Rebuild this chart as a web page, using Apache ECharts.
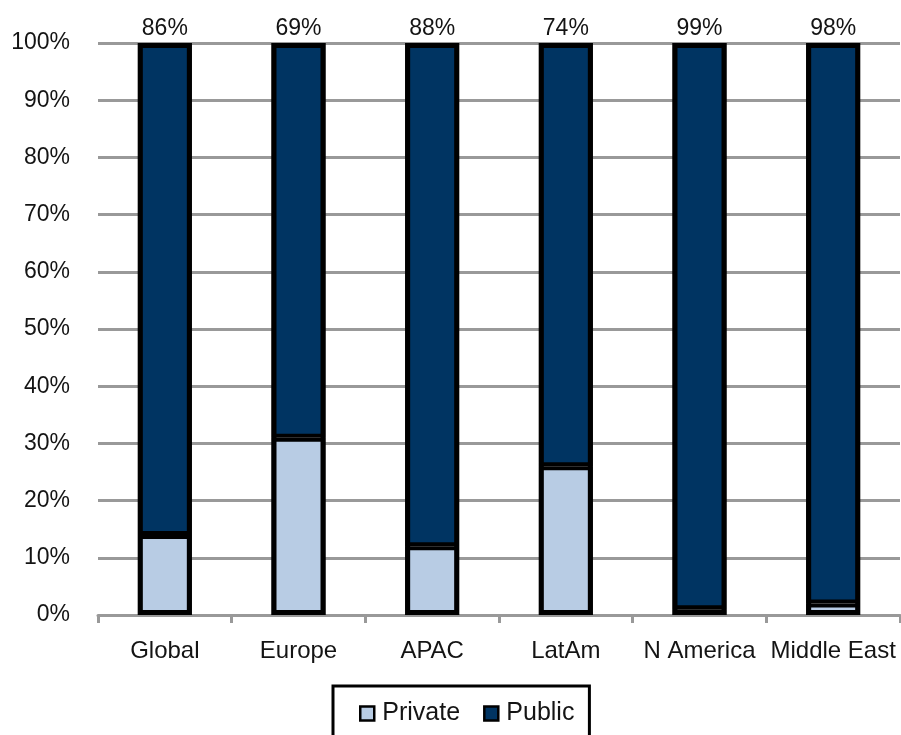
<!DOCTYPE html>
<html>
<head>
<meta charset="utf-8">
<script src="https://cdn.jsdelivr.net/npm/echarts@6/dist/echarts.min.js"></script>
<style>
  html, body { margin: 0; padding: 0; background: #fff; }
  #main { width: 901px; height: 735px; }
</style>
</head>
<body>
<div id="main"></div>
<script>
;(function() {
    // chart data
    var categories = ['Global', 'Europe', 'APAC', 'LatAm', 'N America', 'Middle East'];
    var privateShare = [14, 31, 12, 26, 1, 2];
    var publicShare = [86, 69, 88, 74, 99, 98];
    var yTicks = { min: 0, max: 100, interval: 10 };

    // total column height, used for the black outline round each bar
    var totalShare = privateShare.map(function(v, i) { return v + publicShare[i]; });

    var font = 'Liberation Sans, Arial, sans-serif';
    var textColor = '#141414';
    var gridGray = '#999999';
    var barW = 54;

    var myChart = echarts.init(document.getElementById('main'));
    var option = {
        animation: false,
        backgroundColor: '#fff',
        grid: {
            left: 98,
            right: 1,
            top: 43,
            bottom: 120
        },
        legend: {
            left: 333,
            top: 686,
            padding: [15, 15, 30, 26],
            borderColor: '#000',
            borderWidth: 3,
            itemWidth: 14,
            itemHeight: 14,
            itemGap: 23,
            icon: 'rect',
            itemStyle: {
                borderColor: '#000',
                borderWidth: 2.5
            },
            textStyle: {
                fontFamily: font,
                fontSize: 25,
                color: textColor,
                padding: [0, 0, 0, 3]
            },
            data: ['Private', 'Public']
        },
        xAxis: {
            type: 'category',
            data: categories,
            axisLine: {
                lineStyle: { color: gridGray, width: 3 }
            },
            axisTick: {
                show: true,
                length: 8,
                lineStyle: { color: gridGray, width: 3 }
            },
            axisLabel: {
                margin: 24,
                fontFamily: font,
                fontSize: 24,
                color: textColor,
                interval: 0
            }
        },
        yAxis: {
            type: 'value',
            min: yTicks.min,
            max: yTicks.max,
            interval: yTicks.interval,
            axisLine: { show: false },
            axisTick: { show: false },
            splitLine: {
                lineStyle: { color: gridGray, width: 3 }
            },
            axisLabel: {
                formatter: '{value}%',
                margin: 28,
                fontFamily: font,
                fontSize: 23,
                color: textColor
            }
        },
        series: [{
            name: 'Private',
            type: 'bar',
            stack: 'total',
            barWidth: barW,
            data: privateShare,
            itemStyle: {
                color: '#b8cce4',
                borderColor: '#000',
                borderWidth: 4
            }
        }, {
            name: 'Public',
            type: 'bar',
            stack: 'total',
            barWidth: barW,
            data: publicShare,
            itemStyle: {
                color: '#003462',
                borderColor: '#000',
                borderWidth: 4
            },
            label: {
                show: true,
                position: 'top',
                distance: 3,
                formatter: '{c}%',
                fontFamily: font,
                fontSize: 23,
                color: textColor
            }
        }, {
            name: 'outline',
            type: 'bar',
            barWidth: barW,
            barGap: '-100%',
            data: totalShare,
            silent: true,
            itemStyle: {
                color: 'rgba(0,0,0,0)',
                borderColor: '#000',
                borderWidth: 5
            }
        }]
    };
    myChart.setOption(option);
})();
</script>
</body>
</html>
